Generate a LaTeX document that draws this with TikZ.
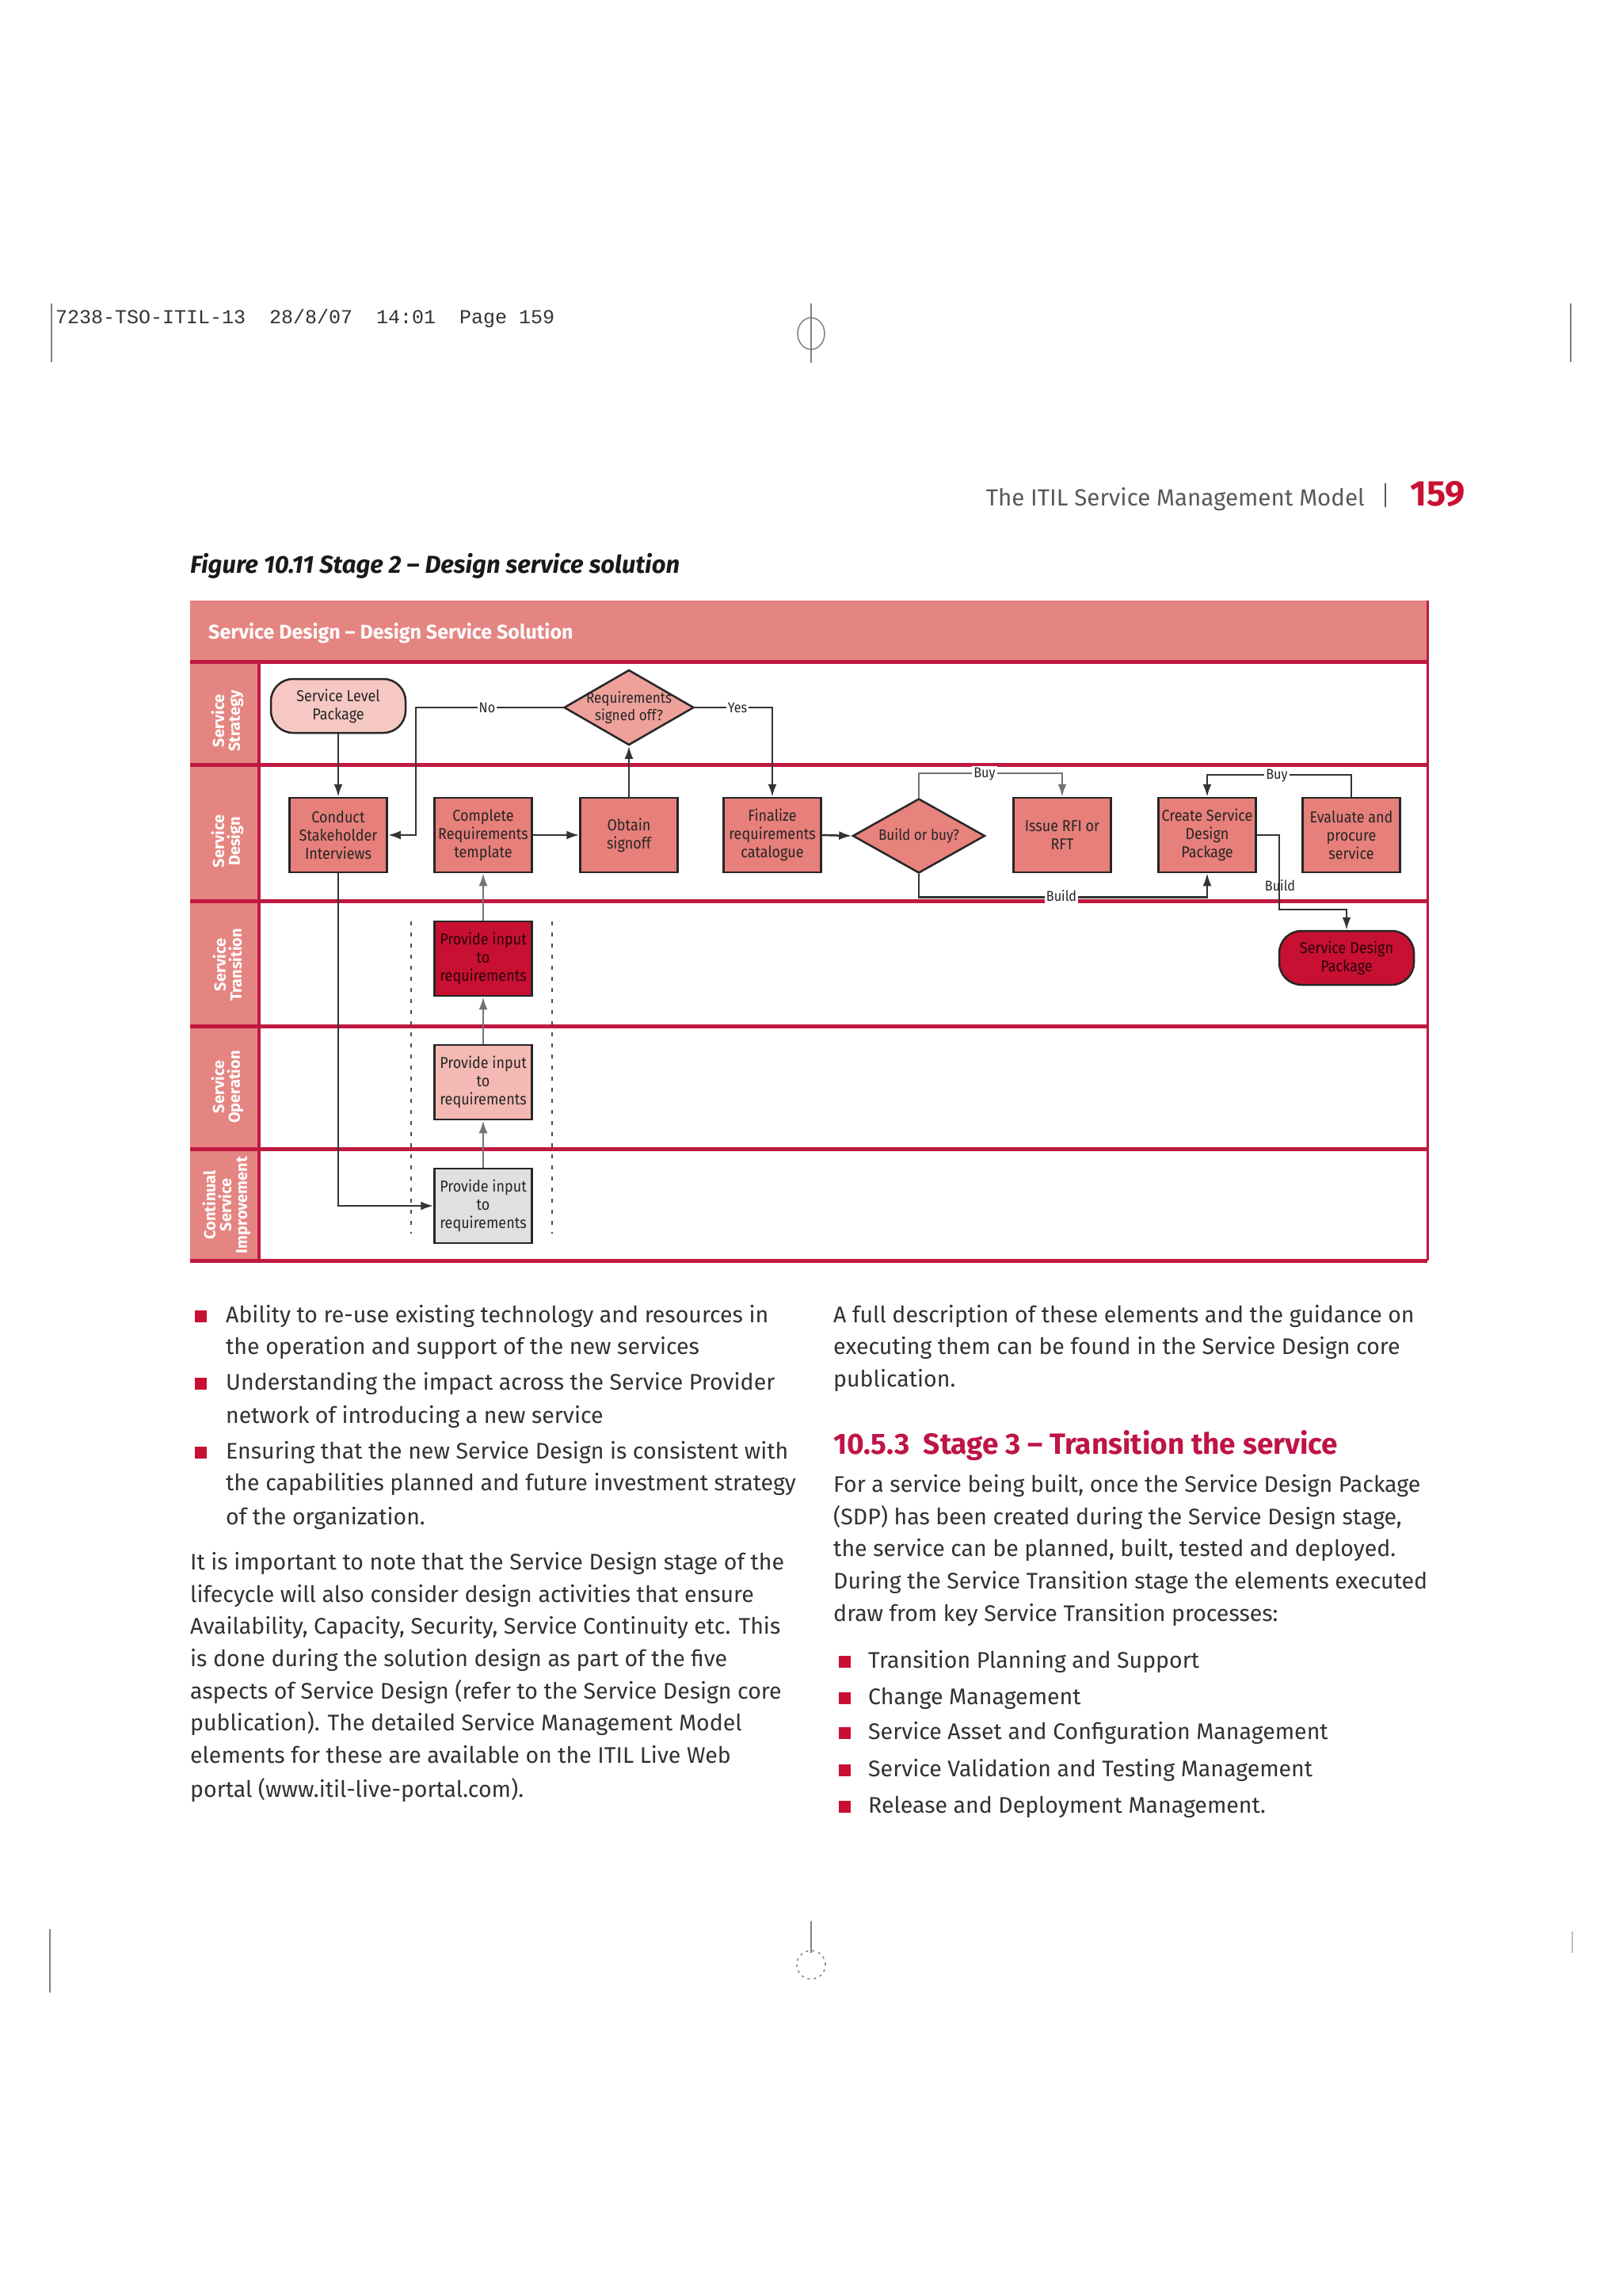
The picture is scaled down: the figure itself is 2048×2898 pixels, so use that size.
\documentclass[tikz,border=0pt]{standalone}
\usepackage{fontspec}
\setmainfont{Fira Sans}
\newfontfamily\condfont[FakeStretch=0.9]{Fira Sans}
\newfontfamily\slugfont{Liberation Mono}
\usetikzlibrary{arrows.meta,shapes.geometric,calc}
\definecolor{salmon}{RGB}{229,133,130}
\definecolor{laneline}{RGB}{192,24,64}
\definecolor{boxfill}{RGB}{231,127,122}
\definecolor{lightpink}{RGB}{246,200,196}
\definecolor{diapink}{RGB}{238,160,155}
\definecolor{diasalmon}{RGB}{232,130,125}
\definecolor{opfill}{RGB}{244,185,180}
\definecolor{csifill}{RGB}{224,224,224}
\definecolor{crimson}{RGB}{200,16,50}
\definecolor{headred}{RGB}{190,20,70}
\definecolor{bodytext}{RGB}{50,50,50}
\begin{document}
\begin{tikzpicture}[x=1pt,y=-1pt,
  procbox/.style={draw=black!85, line width=2.5pt, fill=boxfill, minimum width=123pt, minimum height=94pt, inner sep=0pt, align=center, text=black!85, font=\condfont\fontsize{20}{23}\selectfont},
  termbox/.style={draw=black!85, line width=2.5pt, rounded corners=28pt, minimum width=170pt, minimum height=68pt, inner sep=0pt, align=center, text=black!85, font=\condfont\fontsize{20}{23}\selectfont},
  decision/.style={diamond, draw=black!85, line width=2.5pt, minimum width=164pt, minimum height=95pt, inner sep=0pt},
  dtext/.style={align=center, inner sep=0pt, text=black!85, font=\condfont\fontsize{19}{22}\selectfont},
  conn/.style={draw=black!80, line width=2.5pt},
  conngray/.style={draw=black!55, line width=2.5pt},
  arr/.style={-{Latex[length=16pt,width=11pt]}},
  clabel/.style={fill=white, inner sep=2pt, text=black!85, font=\condfont\fontsize{18}{20}\selectfont},
  lanetxt/.style={rotate=90, align=center, text=white, inner sep=0pt, font=\bfseries\fontsize{20}{20}\selectfont},
  laneline/.style={draw=laneline, line width=5pt},
  bodyline/.style={anchor=base west, inner sep=0pt, text=bodytext, font=\fontsize{28.5}{32}\selectfont},
  bsq/.style={fill=crimson, minimum size=15pt, inner sep=0pt},
  regmark/.style={draw=black!50, line width=1.5pt}
]
\useasboundingbox (0,0) rectangle (2048,2898);
\fill[white] (0,0) rectangle (2048,2898);

% ---- crop / registration marks ----
\draw[regmark] (65,383) -- (65,457);
\draw[regmark] (1983,383) -- (1983,457);
\draw[regmark] (1024,383) -- (1024,458);
\draw[regmark] (1024,421) ellipse [x radius=17pt, y radius=20pt];
\draw[regmark] (63,2435) -- (63,2515);
\draw[regmark, draw=black!25] (1985,2438) -- (1985,2465);
\draw[regmark] (1024,2425) -- (1024,2465);
\draw[regmark, dashed, dash pattern=on 3pt off 5pt] (1024,2480) circle [radius=18pt];

% ---- slug and running head ----
\node[anchor=base west, inner sep=0pt, text=black!80, font=\slugfont\fontsize{25}{28}\selectfont] (slug) at (70,408) {7238-TSO-ITIL-13\ \ 28/8/07\ \ 14:01\ \ Page 159};
\node[anchor=base east, inner sep=0pt, text=black!65, font=\fontsize{29.5}{32}\selectfont] (runhead) at (1723,638) {The ITIL Service Management Model};
\draw[draw=black!65, line width=2pt] (1749,610) -- (1749,640);
\node[anchor=base west, inner sep=0pt, text=crimson, font=\bfseries\fontsize{45}{48}\selectfont] (pagenum) at (1780,638) {159};

% ---- figure caption ----
\node[anchor=base west, inner sep=0pt, text=black!90, font=\bfseries\itshape\fontsize{31}{33}\selectfont] (caption) at (240,723) {Figure 10.11 Stage 2 -- Design service solution};

% ---- swimlane frame ----
\fill[salmon] (240,758) rectangle (1802,835);
\fill[salmon] (240,835) rectangle (327,1591);
\node[anchor=west, inner sep=0pt, text=white, font=\bfseries\fontsize{25}{27}\selectfont] (title) at (263,799) {Service Design -- Design Service Solution};
\draw[draw=laneline, line width=3pt] (1802,758) -- (1802,1591);
\draw[draw=laneline, line width=4pt] (327,835) -- (327,1591);
\foreach \yy in {835,965,1137,1295,1450,1591} {
  \draw[laneline] (240,\yy) -- (1802,\yy);
}
\node[lanetxt] (lane1) at (287,910) {Service\\Strategy};
\node[lanetxt] (lane2) at (287,1062) {Service\\Design};
\node[lanetxt] (lane3) at (287,1218) {Service\\Transition};
\node[lanetxt] (lane4) at (287,1372) {Service\\Operation};
\node[lanetxt] (lane5) at (286,1521) {Continual\\Service\\Improvement};

% ---- dashed guides ----
\draw[draw=black!70, line width=2pt, dash pattern=on 5pt off 9pt] (519,1163) -- (519,1557);
\draw[draw=black!70, line width=2pt, dash pattern=on 5pt off 9pt] (697,1163) -- (697,1557);

% ---- nodes ----
\node[termbox, fill=lightpink] (slp) at (427,891) {Service Level\\Package};
\node[decision, fill=diapink] (rso) at (794,893) {};
\node[dtext] (rsotxt) at (rso) {Requirements\\signed off?};
\node[procbox] (cond) at (427,1054) {Conduct\\Stakeholder\\Interviews};
\node[procbox] (compl) at (610,1054) {Complete\\Requirements\\template};
\node[procbox] (obt) at (794,1054) {Obtain\\signoff};
\node[procbox] (fin) at (975,1054) {Finalize\\requirements\\catalogue};
\node[decision, fill=diasalmon, minimum width=167pt, minimum height=94pt] (bob) at (1160,1055) {};
\node[dtext] (bobtxt) at (bob) {Build or buy?};
\node[procbox] (rfi) at (1341,1054) {Issue RFI or\\RFT};
\node[procbox] (csdp) at (1524,1054) {Create Service\\Design\\Package};
\node[procbox] (evp) at (1706,1054) {Evaluate and\\procure\\service};
\node[termbox, fill=crimson, text=black!80!crimson] (sdp) at (1700,1209) {Service Design\\Package};
\node[procbox, fill=crimson, text=black!80!crimson] (pit) at (610,1210) {Provide input\\to\\requirements};
\node[procbox, fill=opfill] (pio) at (610,1366) {Provide input\\to\\requirements};
\node[procbox, fill=csifill] (pic) at (610,1522) {Provide input\\to\\requirements};

% ---- connectors ----
\coordinate (nocorner) at (525,1054);
\coordinate (bd1) at (1615,1054);
\coordinate (bd2) at (1615,1148);
\draw[conn,arr] (slp.south) -- (cond.north);
\draw[conn,arr] (rso.west) -| (nocorner) -- (cond.east);
\node[clabel] (lno) at (615,893) {No};
\draw[conn,arr] (compl.east) -- (obt.west);
\draw[conn,arr] (obt.north) -- (rso.south);
\draw[conn,arr] (rso.east) -| (fin.north);
\node[clabel] (lyes) at (931,893) {Yes};
\draw[conn,arr] (fin.east) -- (bob.west);
\draw[conngray,arr] (bob.north) |- ($(rfi.north)+(0,-30)$) -- (rfi.north);
\node[clabel] (lbuy1) at (1243,977) {Buy};
\draw[conn,arr] (evp.north) |- ($(csdp.north)+(0,-28)$) -- (csdp.north);
\node[clabel] (lbuy2) at (1612,979) {Buy};
\draw[conn,arr] (bob.south) |- ($(csdp.south)+(0,30)$) -- (csdp.south);
\node[clabel] (lbuild1) at (1340,1131) {Build};
\draw[conn,arr] (csdp.east) -- (bd1) -- (bd2) -| (sdp.north);
\node[clabel, fill=none] (lbuild2) at (1616,1118) {Build};
\draw[conn,arr] (cond.south) |- (pic.west);
\draw[conngray,arr] (pic.north) -- (pio.south);
\draw[conngray,arr] (pio.north) -- (pit.south);
\draw[conngray,arr] (pit.north) -- (compl.south);

% ---- left column text ----
\node[bsq] (b1) at (253,1661) {};
\node[bodyline] (l1) at (285,1669) {Ability to re-use existing technology and resources in};
\node[bodyline] (l2) at (285,1709) {the operation and support of the new services};
\node[bsq] (b2) at (253,1746) {};
\node[bodyline] (l3) at (285,1754) {Understanding the impact across the Service Provider};
\node[bodyline] (l4) at (285,1796) {network of introducing a new service};
\node[bsq] (b3) at (253,1833) {};
\node[bodyline] (l5) at (285,1841) {Ensuring that the new Service Design is consistent with};
\node[bodyline] (l6) at (285,1881) {the capabilities planned and future investment strategy};
\node[bodyline] (l7) at (285,1924) {of the organization.};
\node[bodyline] (p1) at (240,1981) {It is important to note that the Service Design stage of the};
\node[bodyline] (p2) at (240,2022) {lifecycle will also consider design activities that ensure};
\node[bodyline] (p3) at (240,2062) {Availability, Capacity, Security, Service Continuity etc. This};
\node[bodyline] (p4) at (240,2103) {is done during the solution design as part of the five};
\node[bodyline] (p5) at (240,2144) {aspects of Service Design (refer to the Service Design core};
\node[bodyline] (p6) at (240,2184) {publication). The detailed Service Management Model};
\node[bodyline] (p7) at (240,2225) {elements for these are available on the ITIL Live Web};
\node[bodyline] (p8) at (240,2268) {portal (www.itil-live-portal.com).};

% ---- right column text ----
\node[bodyline] (r1) at (1052,1669) {A full description of these elements and the guidance on};
\node[bodyline] (r2) at (1052,1709) {executing them can be found in the Service Design core};
\node[bodyline] (r3) at (1052,1750) {publication.};
\node[anchor=base west, inner sep=0pt, text=headred, font=\bfseries\fontsize{37}{40}\selectfont] (h1) at (1052,1835) {10.5.3\ \ Stage 3 -- Transition the service};
\node[bodyline] (r4) at (1052,1883) {For a service being built, once the Service Design Package};
\node[bodyline] (r5) at (1052,1924) {(SDP) has been created during the Service Design stage,};
\node[bodyline] (r6) at (1052,1964) {the service can be planned, built, tested and deployed.};
\node[bodyline] (r7) at (1052,2005) {During the Service Transition stage the elements executed};
\node[bodyline] (r8) at (1052,2046) {draw from key Service Transition processes:};
\node[bsq] (rb1) at (1066,2097) {};
\node[bodyline] (s1) at (1096,2105) {Transition Planning and Support};
\node[bsq] (rb2) at (1066,2143) {};
\node[bodyline] (s2) at (1096,2151) {Change Management};
\node[bsq] (rb3) at (1066,2187) {};
\node[bodyline] (s3) at (1096,2195) {Service Asset and Configuration Management};
\node[bsq] (rb4) at (1066,2234) {};
\node[bodyline] (s4) at (1096,2242) {Service Validation and Testing Management};
\node[bsq] (rb5) at (1066,2280) {};
\node[bodyline] (s5) at (1096,2288) {Release and Deployment Management.};
\end{tikzpicture}
\end{document}
